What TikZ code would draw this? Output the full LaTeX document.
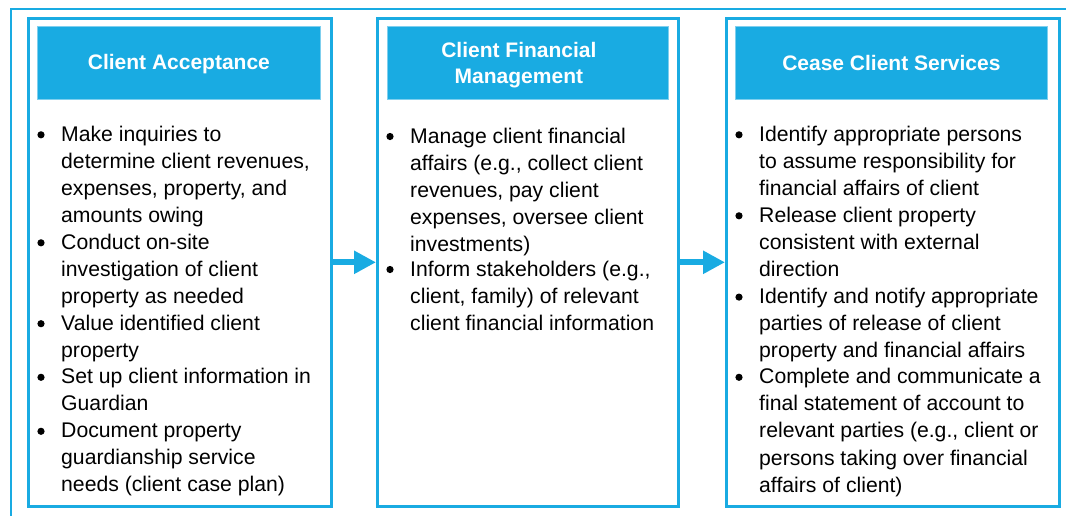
\documentclass[tikz,border=0pt]{standalone}
\usepackage{fontspec}
\setmainfont{Liberation Sans}
\usetikzlibrary{arrows.meta}
\definecolor{brand}{HTML}{19ABE2}
\definecolor{brandlight}{HTML}{7FCFEE}

% bullet item: #1 name, #2 x, #3 first baseline, #4 extra lines, #5 text
% (a multi-line node's base anchor sits on its last line)
\newcommand{\pitem}[5]{%
  \node[dotmark] (#1d) at (#2-20,#3-6.5) {};
  \node[item] (#1) at (#2,#3+#4*27.08) {#5};}

\begin{document}
\begin{tikzpicture}[x=1pt,y=-1pt,
  panel/.style={draw=brand, line width=2.6pt, inner sep=0, anchor=north west},
  header/.style={fill=brand, draw=brandlight, line width=0.8pt, inner sep=0,
    anchor=north west},
  htext/.style={text=white, align=center,
    font=\fontsize{21}{26}\selectfont\bfseries},
  item/.style={anchor=base west, align=left, inner sep=0,
    font=\fontsize{21.2}{27.08}\selectfont},
  dotmark/.style={circle, fill=black, inner sep=0, minimum size=7.2pt},
  flow/.style={draw=brand, line width=6pt,
    -{Triangle[length=22pt,width=22pt]}}
]
\useasboundingbox (0,0) rectangle (1066,515);

% outer frame
\coordinate (fbl) at (11,530);
\coordinate (ftr) at (1080,9);
\draw[brand, line width=2pt] (fbl) |- (ftr);

% three stage panels
\node[panel, minimum width=303pt, minimum height=488pt] (p1) at (27,17) {};
\node[panel, minimum width=301pt, minimum height=488pt] (p2) at (376,17) {};
\node[panel, minimum width=333pt, minimum height=488pt] (p3) at (725,17) {};

% panel headers
\node[header, minimum width=283pt, minimum height=73pt] (h1) at (37,26) {};
\node[header, minimum width=281pt, minimum height=73pt] (h2) at (387,26) {};
\node[header, minimum width=312pt, minimum height=73pt] (h3) at (735,26) {};
\node[htext] (t1) at ([yshift=-1pt]h1.center) {Client Acceptance};
\node[htext] (t2) at ([xshift=-9pt,yshift=-2pt]h2.center) {Client Financial\\Management};
\node[htext] (t3) at (h3.center) {Cease Client Services};

% flow arrows between panels
\draw[flow] (p1.east) -- (p2.west);
\draw[flow] (p2.east) -- (p3.west);

% Client Acceptance
\pitem{a1}{61}{141.3}{3}{Make inquiries to\\determine client revenues,\\expenses, property, and\\amounts owing}
\pitem{a2}{61}{249.3}{2}{Conduct on-site\\investigation of client\\property as needed}
\pitem{a3}{61}{330.2}{1}{Value identified client\\property}
\pitem{a4}{61}{383.8}{1}{Set up client information in\\Guardian}
\pitem{a5}{61}{437.8}{2}{Document property\\guardianship service\\needs (client case plan)}

% Client Financial Management
\pitem{b1}{410}{143}{4}{Manage client financial\\affairs (e.g., collect client\\revenues, pay client\\expenses, oversee client\\investments)}
\pitem{b2}{410}{276}{2}{Inform stakeholders (e.g.,\\client, family) of relevant\\client financial information}

% Cease Client Services
\pitem{c1}{759}{141.3}{2}{Identify appropriate persons\\to assume responsibility for\\financial affairs of client}
\pitem{c2}{759}{222.3}{2}{Release client property\\consistent with external\\direction}
\pitem{c3}{759}{303.6}{2}{Identify and notify appropriate\\parties of release of client\\property and financial affairs}
\pitem{c4}{759}{383.8}{4}{Complete and communicate a\\final statement of account to\\relevant parties (e.g., client or\\persons taking over financial\\affairs of client)}
\end{tikzpicture}
\end{document}
